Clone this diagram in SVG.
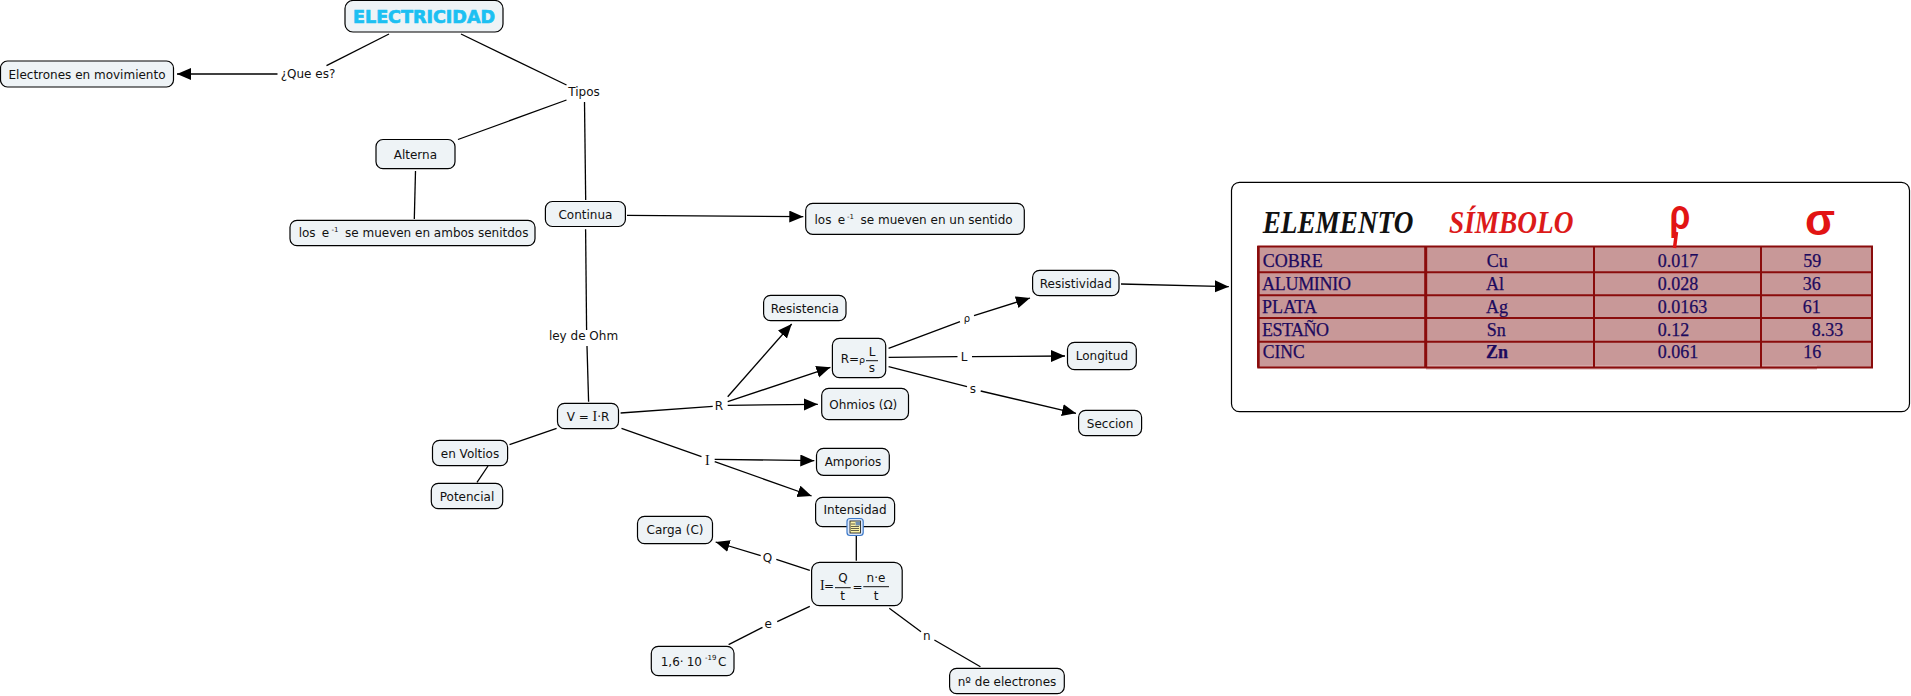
<svg xmlns="http://www.w3.org/2000/svg" width="1911" height="696" viewBox="0 0 1911 696">
<style>
text{font-family:"DejaVu Sans","Liberation Sans",sans-serif;font-size:12px;fill:#111}
.m{text-anchor:middle}
.n{fill:#eef3f6;stroke:#000;stroke-width:1.2}
.c line{stroke:#000;stroke-width:1.3}
.a{marker-end:url(#h)}
.s{font-size:7px}
.f{font-family:"Liberation Serif","DejaVu Serif",serif;font-size:14px}
.t{font-family:"Liberation Serif",serif;font-size:18px;fill:#1c0a5e;stroke:#1c0a5e;stroke-width:.25}
.hd{font-family:"Liberation Serif",serif;font-size:32px;font-weight:bold;font-style:italic}
.g{font-family:"Liberation Sans",sans-serif;font-weight:bold;fill:#e21414;text-anchor:middle}
.b{fill:none;stroke:#8a0c0c;stroke-width:2}
</style>
<defs>
<marker id="h" markerUnits="userSpaceOnUse" markerWidth="15" markerHeight="13" refX="14" refY="6" orient="auto"><path d="M0,0L14,6L0,12z" fill="#000"/></marker>
</defs>
<rect width="1911" height="696" fill="#fff"/>
<g id="connectors" class="c">
<line x1="389" y1="34" x2="326.5" y2="65.7"/>
<line class="a" x1="277.5" y1="74" x2="177" y2="74"/>
<line x1="461" y1="34" x2="566.5" y2="85"/>
<line x1="566.5" y1="100" x2="458" y2="139.5"/>
<line x1="415.5" y1="171" x2="414.3" y2="219"/>
<line x1="584.5" y1="102" x2="585.7" y2="200"/>
<line class="a" x1="627" y1="215.3" x2="803.3" y2="216.7"/>
<line x1="585.6" y1="229.3" x2="586.6" y2="330"/>
<line x1="587" y1="346" x2="588.6" y2="401.7"/>
<line x1="620.6" y1="413" x2="712.7" y2="406.3"/>
<line class="a" x1="727.7" y1="396.7" x2="791.7" y2="324"/>
<line class="a" x1="727.7" y1="401.7" x2="830.4" y2="367.3"/>
<line class="a" x1="727.7" y1="405.3" x2="817.8" y2="404.3"/>
<line x1="888.6" y1="348.3" x2="960" y2="321.7"/>
<line class="a" x1="974" y1="315.7" x2="1030" y2="298"/>
<line x1="888.6" y1="357.3" x2="957.5" y2="356.7"/>
<line class="a" x1="972" y1="356.7" x2="1065" y2="356"/>
<line x1="888.6" y1="366.7" x2="967" y2="386.7"/>
<line class="a" x1="980.7" y1="391" x2="1076" y2="413.3"/>
<line class="a" x1="1121" y1="284" x2="1228.8" y2="286.7"/>
<line x1="556.6" y1="428.3" x2="509.5" y2="444.7"/>
<line x1="488" y1="466" x2="477" y2="482.3"/>
<line x1="621.5" y1="428.3" x2="701.5" y2="456.7"/>
<line class="a" x1="714.7" y1="459.3" x2="814.3" y2="460.7"/>
<line class="a" x1="714.7" y1="461.7" x2="811.6" y2="496"/>
<line x1="856.3" y1="535.7" x2="856.3" y2="560.7"/>
<line x1="809.8" y1="570.3" x2="776.3" y2="559.3"/>
<line class="a" x1="760.7" y1="555.7" x2="715.6" y2="542"/>
<line x1="809.8" y1="606.3" x2="777.2" y2="621.7"/>
<line x1="762.5" y1="627.3" x2="728.6" y2="644.7"/>
<line x1="889.3" y1="608.3" x2="921" y2="631.7"/>
<line x1="934.4" y1="640" x2="980.4" y2="666.7"/>
</g>
<g id="labels">
<text class="m" x="308" y="77.5">¿Que es?</text>
<text class="m" x="584" y="96">Tipos</text>
<text class="m" x="583.5" y="340">ley de Ohm</text>
<text class="m" x="719" y="410">R</text>
<text class="m" x="967" y="322" style="font-size:10px">ρ</text>
<text class="m" x="964" y="361">L</text>
<text class="m" x="973" y="393">s</text>
<text class="m f" x="707.3" y="464.5">I</text>
<text class="m" x="767.4" y="562">Q</text>
<text class="m" x="768.3" y="628">e</text>
<text class="m" x="926.8" y="640">n</text>
</g>
<g id="node-electricidad"><rect class="n" x="345" y="0.5" width="158" height="31.5" rx="8"/><text class="m" x="424" y="22.7" textLength="142" lengthAdjust="spacingAndGlyphs" style="font-size:17px;font-weight:bold;fill:#1cc0f2;stroke:#1cc0f2;stroke-width:.7">ELECTRICIDAD</text></g>
<g id="node-electrones"><rect class="n" x="0.5" y="61" width="173" height="26" rx="7"/><text class="m" x="87" y="78.5">Electrones en movimiento</text></g>
<g id="node-alterna"><rect class="n" x="376" y="139.5" width="79" height="29.2" rx="7"/><text class="m" x="415.4" y="158.5">Alterna</text></g>
<g id="node-ambos"><rect class="n" x="290" y="220.3" width="245" height="25.4" rx="7"/><text x="298.7" y="237.3">los</text><text x="321.7" y="237.3">e</text><text class="s" x="331.5" y="232">-1</text><text x="345" y="237.3">se mueven en ambos senitdos</text></g>
<g id="node-continua"><rect class="n" x="545.4" y="201.5" width="80" height="25" rx="7"/><text class="m" x="585.4" y="218.5">Continua</text></g>
<g id="node-sentido"><rect class="n" x="805.7" y="203.3" width="218.6" height="31" rx="7"/><text x="814.5" y="224.3">los</text><text x="837.7" y="224.3">e</text><text class="s" x="847" y="219">-1</text><text x="860.5" y="224.3">se mueven en un sentido</text></g>
<g id="node-vir"><rect class="n" x="557.5" y="403.3" width="61" height="25.4" rx="7"/><text class="m" x="588" y="420.5">V = <tspan class="f">I</tspan>·R</text></g>
<g id="node-resistencia"><rect class="n" x="763.6" y="295.3" width="82.4" height="25.4" rx="7"/><text class="m" x="804.8" y="312.5">Resistencia</text></g>
<g id="node-formula-r"><rect class="n" x="832.4" y="338.3" width="53.3" height="39.4" rx="7"/><text x="840.7" y="363">R=<tspan style="font-size:9.5px">ρ</tspan></text><text class="m" x="872" y="356">L</text><line x1="866" y1="360.7" x2="878" y2="360.7" stroke="#111" stroke-width="1"/><text class="m" x="872" y="372">s</text></g>
<g id="node-ohmios"><rect class="n" x="821.7" y="388.3" width="86.8" height="31.4" rx="7"/><text class="m" x="863.3" y="409">Ohmios (Ω)</text></g>
<g id="node-resistividad"><rect class="n" x="1032.6" y="270.3" width="86.4" height="25.4" rx="7"/><text class="m" x="1075.8" y="287.5">Resistividad</text></g>
<g id="node-longitud"><rect class="n" x="1067.5" y="342.3" width="68.8" height="27.4" rx="7"/><text class="m" x="1101.9" y="360">Longitud</text></g>
<g id="node-seccion"><rect class="n" x="1078.6" y="410.3" width="63" height="25.4" rx="7"/><text class="m" x="1110.1" y="427.5">Seccion</text></g>
<g id="node-voltios"><rect class="n" x="432.5" y="440.3" width="75.1" height="25.4" rx="7"/><text class="m" x="470" y="457.5">en Voltios</text></g>
<g id="node-potencial"><rect class="n" x="431.3" y="483.3" width="71.4" height="25.4" rx="7"/><text class="m" x="467" y="500.5">Potencial</text></g>
<g id="node-amporios"><rect class="n" x="816.5" y="448.3" width="72.8" height="27" rx="7"/><text class="m" x="853" y="465.8">Amporios</text></g>
<g id="node-intensidad"><rect class="n" x="815.6" y="497.3" width="79" height="29.4" rx="7"/><text class="m" x="855" y="514">Intensidad</text>
<rect x="847" y="518.5" width="16.2" height="17" rx="3" fill="#dbe8fa" stroke="#3c78c8" stroke-width="1.2"/><rect x="850" y="521" width="10.5" height="12" fill="#fbf3a8" stroke="#111" stroke-width=".8"/><rect x="855.5" y="521.5" width="4.5" height="4" fill="#6f8fb0"/><path d="M851,524h4M851,526.5h8M851,528.5h8M851,530.5h8" stroke="#222" stroke-width=".7"/></g>
<g id="node-carga"><rect class="n" x="637.5" y="516.3" width="75" height="27.4" rx="7"/><text class="m" x="675" y="533.8">Carga (C)</text></g>
<g id="node-formula-i"><rect class="n" x="811.6" y="562.3" width="90.6" height="43.4" rx="8"/><text class="f" x="820" y="590">I</text><text x="824" y="590">=</text><text class="m" x="843" y="581.7">Q</text><line x1="835" y1="587.7" x2="850.7" y2="587.7" stroke="#111"/><text class="m" x="842.7" y="600">t</text><text x="852.5" y="590.5">=</text><text class="m" x="876" y="581.7">n·e</text><line x1="863.3" y1="586.7" x2="889" y2="586.7" stroke="#111"/><text class="m" x="876" y="600">t</text></g>
<g id="node-carga-e"><rect class="n" x="651.3" y="646.3" width="82.7" height="29.4" rx="7"/><text x="660.7" y="666">1,6·</text><text x="686.7" y="666">10</text><text class="s" x="705" y="660">-19</text><text x="718" y="666">C</text></g>
<g id="node-electrones-n"><rect class="n" x="949.6" y="668.3" width="114.7" height="25.4" rx="7"/><text class="m" x="1007" y="685.5">nº de electrones</text></g>
<g id="node-tabla">
<rect x="1231.5" y="182.3" width="678" height="229.4" rx="8" fill="#fff" stroke="#000" stroke-width="1.2"/>
<text class="hd" x="1262.7" y="233.3" textLength="150.6" lengthAdjust="spacingAndGlyphs">ELEMENTO</text>
<text class="hd" x="1449" y="233.3" textLength="124.5" lengthAdjust="spacingAndGlyphs" style="fill:#dc1a1a">SÍMBOLO</text>
<rect x="1258.3" y="246" width="613.7" height="121.5" fill="#c89898"/>
<rect x="1426" y="365" width="391" height="4.5" fill="#d4a8a8"/>
<rect class="b" x="1258.3" y="246.5" width="613.7" height="121"/>
<path class="b" d="M1258.3,272.3H1872M1258.3,295.3H1872M1258.3,318H1872M1258.3,341.7H1872M1594,246V367.5M1761,246V367.5"/>
<path d="M1425.7,246V367.5" fill="none" stroke="#8a0c0c" stroke-width="3"/>
<path d="M1258.3,246V367.5" fill="none" stroke="#8a0c0c" stroke-width="2.5"/>
<text class="g" transform="translate(1680,229) scale(.8,1)" style="font-size:42px">ρ</text>
<line x1="1676.5" y1="232" x2="1674.5" y2="248" stroke="#e21414" stroke-width="3.5"/>
<text class="g" x="1820" y="235" style="font-size:44px">σ</text>
<text class="t" x="1262.7" y="267.3">COBRE</text><text class="t" x="1262" y="290" textLength="89">ALUMINIO</text><text class="t" x="1262" y="313" textLength="55">PLATA</text><text class="t" x="1262" y="335.7" textLength="67">ESTAÑO</text><text class="t" x="1262.7" y="358" textLength="42" lengthAdjust="spacingAndGlyphs">CINC</text>
<text class="t" x="1486.7" y="267.3">Cu</text><text class="t" x="1486" y="290">Al</text><text class="t" x="1486" y="313">Ag</text><text class="t" x="1486.7" y="335.7">Sn</text><text class="t" x="1486" y="358" style="font-weight:bold">Zn</text>
<text class="t" x="1657.7" y="267.3">0.017</text><text class="t" x="1657.7" y="290">0.028</text><text class="t" x="1657.7" y="313">0.0163</text><text class="t" x="1657.7" y="335.7">0.12</text><text class="t" x="1657.7" y="357.7">0.061</text>
<text class="t" x="1803.3" y="267.3">59</text><text class="t" x="1802.7" y="290">36</text><text class="t" x="1802.7" y="313">61</text><text class="t" x="1811.7" y="335.7">8.33</text><text class="t" x="1803.3" y="357.7">16</text>
</g>
</svg>
